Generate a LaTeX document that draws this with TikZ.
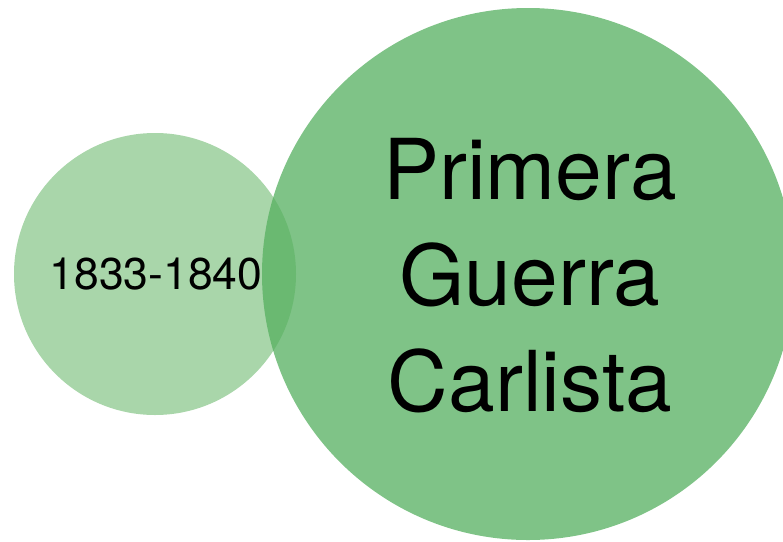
\documentclass[tikz,border=0pt]{standalone}
\usepackage{fontspec}
\setmainfont{TeX Gyre Heros}
\definecolor{smallgreen}{RGB}{169,214,170}
\definecolor{biggreen}{RGB}{86,176,96}
\tikzset{
  smallcirc/.style={circle, fill=smallgreen, minimum size=282pt, inner sep=0pt},
  bigcirc/.style={circle, fill=biggreen, fill opacity=0.756, text opacity=1, minimum size=532pt, inner sep=0pt},
  bigtext/.style={font=\fontsize{84}{106}\selectfont, align=center, text=black},
  smalltext/.style={font=\fontsize{44.5}{50}\selectfont, text=black}
}
\begin{document}
\begin{tikzpicture}[x=1pt,y=-1pt]
\useasboundingbox (0,0) rectangle (783,541);
\node[smallcirc] (small) at (155,274) {};
\node[bigcirc] (big) at (528,274) {};
\node[smalltext] (smalllabel) at (156,274) {1833-1840};
\node[bigtext] (biglabel) at (530,276) {Primera\\Guerra\\Carlista};
\end{tikzpicture}
\end{document}
